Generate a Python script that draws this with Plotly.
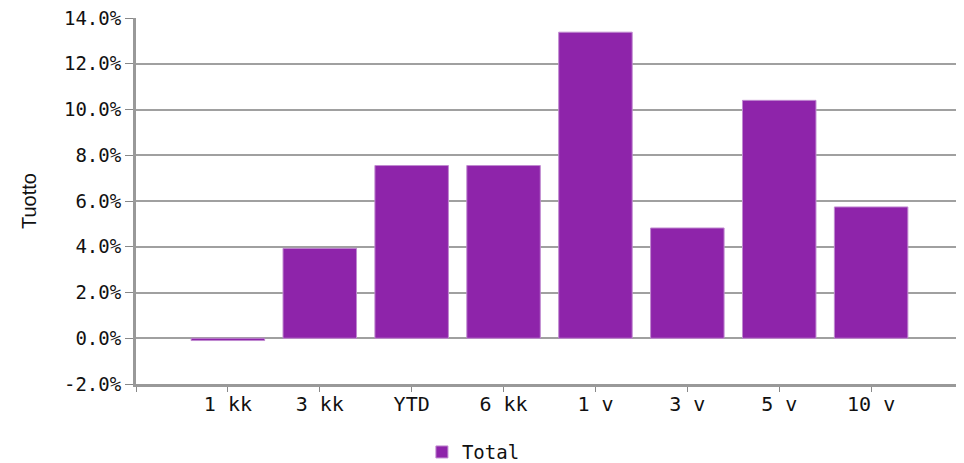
import plotly.graph_objects as go

categories = ["1 kk", "3 kk", "YTD", "6 kk", "1 v", "3 v", "5 v", "10 v"]
values = [-0.10, 3.93, 7.55, 7.55, 13.38, 4.82, 10.40, 5.74]
y_ticks = [-2, 0, 2, 4, 6, 8, 10, 12, 14]
y_tick_labels = [f"{v:.1f}%" for v in y_ticks]

mono = "DejaVu Sans Mono"

fig = go.Figure()
fig.add_trace(go.Bar(
    x=list(range(len(categories))),
    y=values,
    name="Total",
    marker=dict(color="#8E24AA", line=dict(color="#c08ad0", width=1)),
    showlegend=True,
))

fig.update_layout(
    width=956, height=455,
    margin=dict(l=128, r=1, t=10, b=79, autoexpand=False),
    paper_bgcolor="white", plot_bgcolor="white",
    bargap=0.2,
    font=dict(family=mono, size=18, color="#111"),
    showlegend=True,
    legend=dict(orientation="h", x=0.408, xanchor="center", y=-0.238, yanchor="bottom",
                font=dict(family=mono, size=19, color="#111")),
    xaxis=dict(
        range=[-1, 8],
        tickmode="array",
        tickvals=list(range(-1, 9)),
        ticktext=[""] + categories + [""],
        showgrid=False,
        showline=True, linecolor="#999", linewidth=3,
        ticks="outside", ticklen=5, tickcolor="#888", tickwidth=1,
        ticklabelstandoff=-5,
        tickfont=dict(family=mono, size=20, color="#111"),
        zeroline=False, automargin=False,
    ),
    yaxis=dict(
        range=[-2, 14],
        tickmode="array",
        tickvals=y_ticks,
        ticktext=y_tick_labels,
        ticklabeloverflow="allow",
        showgrid=True, gridcolor="#a0a0a0", gridwidth=2,
        showline=True, linecolor="#999", linewidth=3,
        ticks="outside", ticklen=8, tickcolor="#888", tickwidth=1,
        tickfont=dict(family=mono, size=19, color="#111"),
        zeroline=False, automargin=False,
        title=dict(text="Tuotto", font=dict(family="Liberation Sans", size=20, color="#111"), standoff=22),
    ),
)

fig.write_html("out.html")
